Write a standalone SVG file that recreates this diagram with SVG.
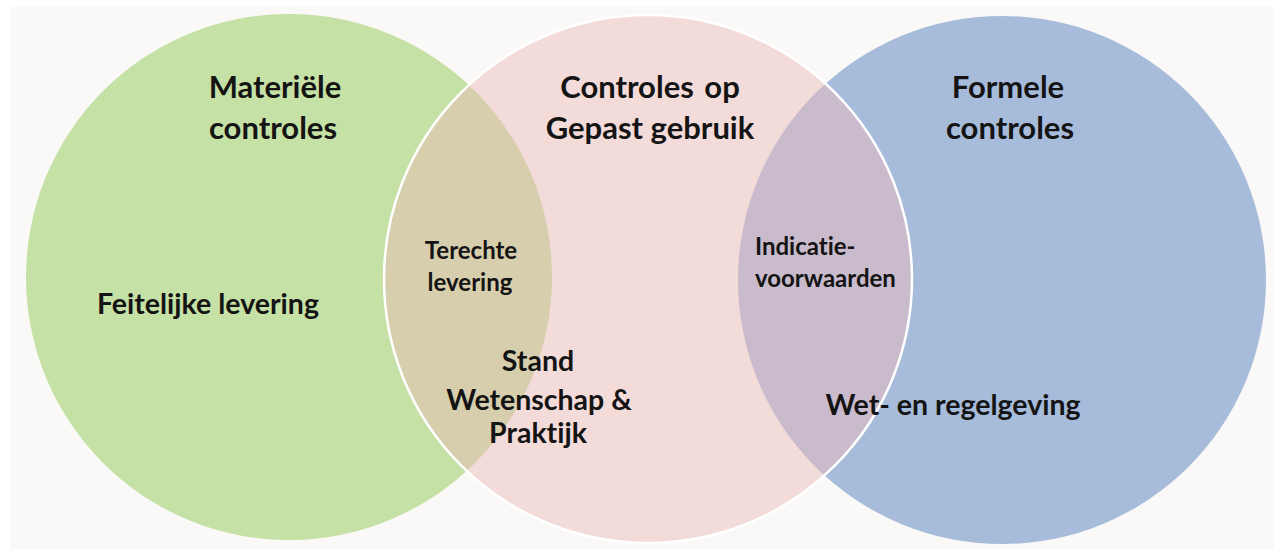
<svg xmlns="http://www.w3.org/2000/svg" width="1274" height="549" viewBox="0 0 1274 549">
<style>
.t{font-family:Lato,"Open Sans","Liberation Sans",sans-serif;font-weight:bold;fill:#141414;font-variant-ligatures:none}
.big{font-size:31px}
.mid{font-size:28.5px}
.sml{font-size:24px}
</style>
<defs>
<clipPath id="cp"><circle cx="648" cy="279" r="264"/></clipPath>
</defs>
<rect width="1274" height="549" fill="#ffffff"/>
<rect x="10" y="7" width="1264" height="542" fill="#fbf9f7"/>
<g id="green"><circle cx="289" cy="277" r="263" fill="#c6e1a5"/></g>
<g id="blue"><circle cx="1002" cy="280" r="264" fill="#a7bcdb"/></g>
<g id="pink"><circle cx="648" cy="279" r="264" fill="#f2dbd9"/></g>
<g id="overlap-left" clip-path="url(#cp)"><circle cx="289" cy="277" r="263" fill="#d7cead"/></g>
<g id="overlap-right" clip-path="url(#cp)"><circle cx="1002" cy="280" r="264" fill="#c9bbcb"/></g>
<g id="pink-outline"><circle cx="648" cy="279" r="264" fill="none" stroke="#ffffff" stroke-width="2.5"/></g>
<g id="labels">
<text class="t big" x="275" y="98" text-anchor="middle">Materiële</text>
<text class="t big" x="273" y="139" text-anchor="middle">controles</text>
<text class="t big" x="650" y="98" text-anchor="middle" word-spacing="3">Controles op</text>
<text class="t big" x="650" y="139" text-anchor="middle">Gepast gebruik</text>
<text class="t big" x="1008" y="98" text-anchor="middle">Formele</text>
<text class="t big" x="1010" y="139" text-anchor="middle">controles</text>
<text class="t sml" x="471" y="259" text-anchor="middle">Terechte</text>
<text class="t sml" x="470" y="291" text-anchor="middle">levering</text>
<text class="t sml" x="755" y="255">Indicatie-</text>
<text class="t sml" x="755" y="287">voorwaarden</text>
<text class="t mid" x="208" y="314" text-anchor="middle">Feitelijke levering</text>
<text class="t mid" x="538" y="371" text-anchor="middle">Stand</text>
<text class="t mid" x="539" y="410" text-anchor="middle">Wetenschap &amp;</text>
<text class="t mid" x="538" y="443" text-anchor="middle">Praktijk</text>
<text class="t mid" x="953" y="415" text-anchor="middle">Wet- en regelgeving</text>
</g>
</svg>
